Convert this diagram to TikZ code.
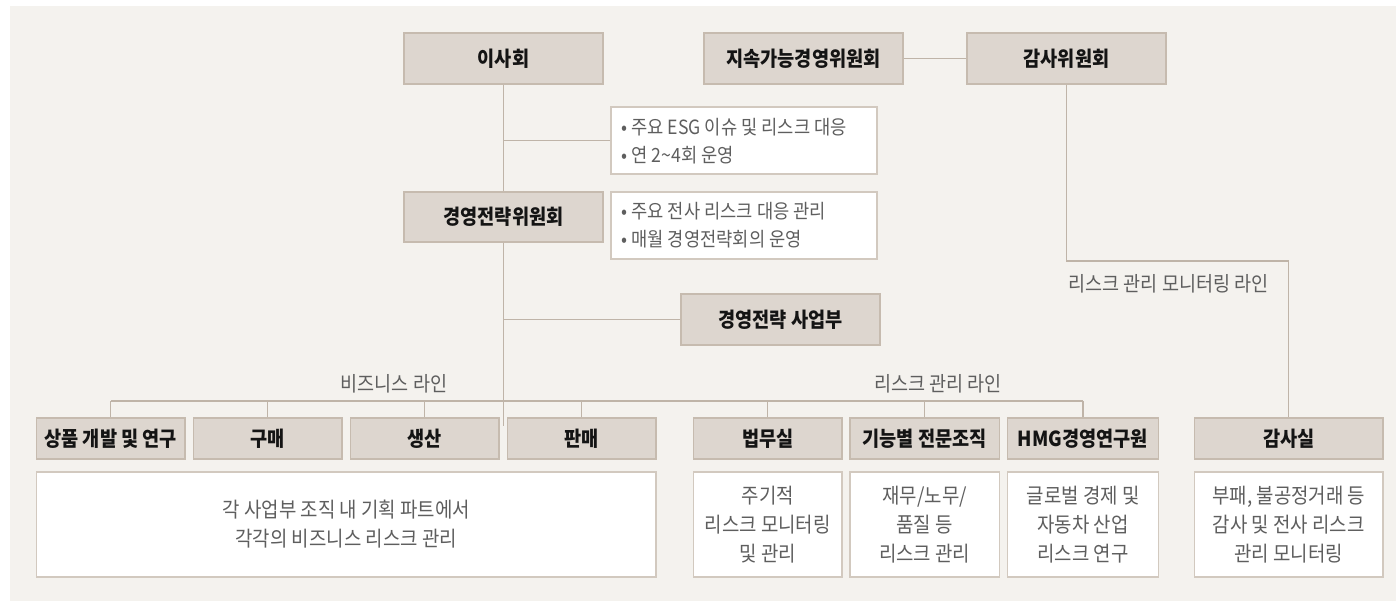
\documentclass[tikz,border=0pt]{standalone}
\usepackage{fontspec}
\setmainfont{Noto Sans CJK KR}[FakeStretch=0.9]
\usetikzlibrary{calc}
\definecolor{bgc}{HTML}{F4F2EE}
\definecolor{hfill}{HTML}{DDD6CF}
\definecolor{hline}{HTML}{C6BBAF}
\definecolor{wline}{HTML}{D2C9BF}
\definecolor{conn}{HTML}{BFB4A8}
\definecolor{gtext}{HTML}{5E5E5E}
\definecolor{htext}{HTML}{141414}
\tikzset{
  hbox/.style={draw=hline, line width=1.2pt, fill=hfill, inner sep=0pt, minimum height=51pt,
    font=\fontsize{20.7}{24}\selectfont\bfseries, text=htext, align=center},
  rowbox/.style={hbox, minimum height=41pt},
  wbox/.style={draw=wline, line width=1.2pt, fill=white, inner sep=0pt, minimum height=105pt,
    font=\fontsize{21}{29}\selectfont, text=gtext, align=center},
  notebox/.style={draw=wline, line width=1.2pt, fill=white, inner sep=0pt,
    minimum height=67pt, minimum width=266pt},
  notetext/.style={inner sep=0pt, anchor=west, align=left,
    font=\fontsize{19.6}{28}\selectfont, text=gtext},
  lbl/.style={inner sep=0pt, font=\fontsize{20.6}{24}\selectfont, text=gtext},
  cn/.style={draw=conn, line width=1.3pt}
}
\begin{document}
\begin{tikzpicture}[x=1pt,y=-1pt]
\useasboundingbox (0,0) rectangle (1396,601);
\fill[bgc] (10,6) rectangle (1396,601);
% top level
\node[hbox, minimum width=199pt] (board) at (503.5,58.5) {이사회};
\node[hbox, minimum width=199pt] (sust) at (803.5,58.5) {지속가능경영위원회};
\node[hbox, minimum width=199pt] (audc) at (1066.5,58.5) {감사위원회};
\node[notebox] (note1) at (744,140.5) {};
\node[notetext] (note1t) at ($(note1.west)+(11,0.5)$) {• 주요 ESG 이슈 및 리스크 대응\\• 연 2\textasciitilde4회 운영};
\node[hbox, minimum width=199pt, minimum height=50pt] (msc) at (503.5,217) {경영전략위원회};
\node[notebox] (note2) at (744,225.5) {};
\node[notetext] (note2t) at ($(note2.west)+(11,0)$) {• 주요 전사 리스크 대응 관리\\• 매월 경영전략회의 운영};
\node[hbox, minimum width=199pt] (msd) at (780.5,319.5) {경영전략 사업부};
% row
\node[rowbox, minimum width=148.5pt] (b1) at (110.75,438.5) {상품 개발 및 연구};
\node[rowbox, minimum width=148.5pt] (b2) at (267.75,438.5) {구매};
\node[rowbox, minimum width=148.5pt] (b3) at (424.75,438.5) {생산};
\node[rowbox, minimum width=148.5pt] (b4) at (581.75,438.5) {판매};
\node[rowbox, minimum width=148.5pt] (r1) at (767.75,438.5) {법무실};
\node[rowbox, minimum width=149.5pt] (r2) at (924.75,438.5) {기능별 전문조직};
\node[rowbox, minimum width=151pt] (r3) at (1083,438.5) {HMG경영연구원};
\node[rowbox, minimum width=188.5pt] (audit) at (1288.75,438.5) {감사실};
% white boxes
\node[wbox, minimum width=619.5pt] (bw) at (346.25,524.5) {각 사업부 조직 내 기획 파트에서\\각각의 비즈니스 리스크 관리};
\node[wbox, minimum width=148.5pt] (rw1) at (767.75,524.5) {주기적\\리스크 모니터링\\및 관리};
\node[wbox, minimum width=149.5pt] (rw2) at (924.75,524.5) {재무/노무/\\품질 등\\리스크 관리};
\node[wbox, minimum width=151pt] (rw3) at (1083,524.5) {글로벌 경제 및\\자동차 산업\\리스크 연구};
\node[wbox, minimum width=188.5pt] (aw) at (1288.75,524.5) {부패, 불공정거래 등\\감사 및 전사 리스크\\관리 모니터링};
% labels
\node[lbl] (lbiz) at (394,384) {비즈니스 라인};
\node[lbl] (lrisk) at (938,384) {리스크 관리 라인};
\node[lbl] (lmon) at (1168.5,284) {리스크 관리 모니터링 라인};
% coordinates
\coordinate (endc) at (503.5,426);
\coordinate (busL) at (110.75,401);
\coordinate (busR) at (1083,401);
\coordinate (kink) at (1288.75,261);
% connectors
\draw[cn] (board.south) -- (msc.north);
\draw[cn] (msc.south) -- (endc);
\draw[cn] (note1.west) -- (note1.west -| board.south);
\draw[cn] (msd.west) -- (msd.west -| msc.south);
\draw[cn] (sust.east) -- (audc.west);
\draw[cn] (audc.south) |- (kink) -- (audit.north);
\draw[cn] (busL) -- (busR);
\foreach \n in {b1,b2,b3,b4,r1,r2,r3}{\draw[cn] (\n.north) -- (\n.north |- busL);}
\end{tikzpicture}
\end{document}
